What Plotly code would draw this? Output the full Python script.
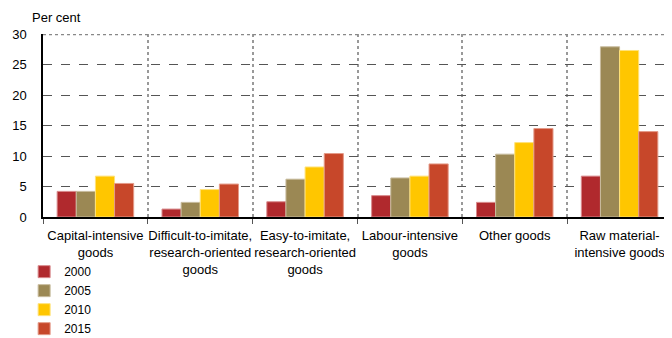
import plotly.graph_objects as go

categories = ["Capital-intensive<br>goods", "Difficult-to-imitate,<br>research-oriented<br>goods",
              "Easy-to-imitate,<br>research-oriented<br>goods", "Labour-intensive<br>goods",
              "Other goods", "Raw material-<br>intensive goods"]
years = ["2000", "2005", "2010", "2015"]
v2000 = [4.2, 1.3, 2.5, 3.5, 2.4, 6.7]
v2005 = [4.2, 2.4, 6.2, 6.4, 10.3, 27.9]
v2010 = [6.7, 4.5, 8.2, 6.7, 12.2, 27.3]
v2015 = [5.5, 5.4, 10.4, 8.7, 14.5, 14.0]
series = [v2000, v2005, v2010, v2015]
colors = ["#B0292D", "#9B8854", "#FFC600", "#C7472A"]
borders = ["#D98A8C", "#C8BC9E", "#FFE27A", "#E49A88"]

FONT = "Liberation Sans, Arial, sans-serif"

fig = go.Figure()
for y, vals, c, b in zip(years, series, colors, borders):
    fig.add_trace(go.Bar(x=categories, y=vals, name=y, marker=dict(color=c, line=dict(color=b, width=1))))

fig.update_layout(
    width=664, height=330,
    margin=dict(l=35, r=0, t=26, b=121, autoexpand=False),
    paper_bgcolor="white", plot_bgcolor="white",
    font=dict(family=FONT, size=13, color="#000000"),
    barmode="group", bargap=0.27, bargroupgap=0,
    showlegend=True,
    legend=dict(orientation="v", x=-0.03, y=0.245, yref="container", xanchor="left", yanchor="top",
                font=dict(size=12), itemwidth=30, tracegroupgap=0, bgcolor="rgba(0,0,0,0)"),
    annotations=[dict(text="Per cent", xref="paper", yref="paper", x=-0.021, y=1.04,
                      xanchor="left", yanchor="bottom", showarrow=False, font=dict(size=13))],
)
fig.update_yaxes(range=[0, 30], dtick=5, showgrid=True, gridcolor="#555555", griddash="dash",
                 gridwidth=1, showline=True, linecolor="#000000", linewidth=1.5, ticks="",
                 ticklabelstandoff=12, zeroline=False, fixedrange=True, automargin=False)
fig.update_xaxes(tickson="boundaries", ticks="outside", ticklen=5, tickcolor="#555555",
                 showgrid=True, gridcolor="#999999", griddash="dot", gridwidth=1.5,
                 showline=True, linecolor="#000000", linewidth=1.5, ticklabelstandoff=6,
                 tickangle=0, tickfont=dict(size=13), fixedrange=True, automargin=False)
fig.add_shape(type="line", xref="paper", yref="y", x0=0, x1=1, y0=30, y1=30,
              line=dict(color="#888888", width=2.5, dash="dot"))
fig.write_html("out.html")
